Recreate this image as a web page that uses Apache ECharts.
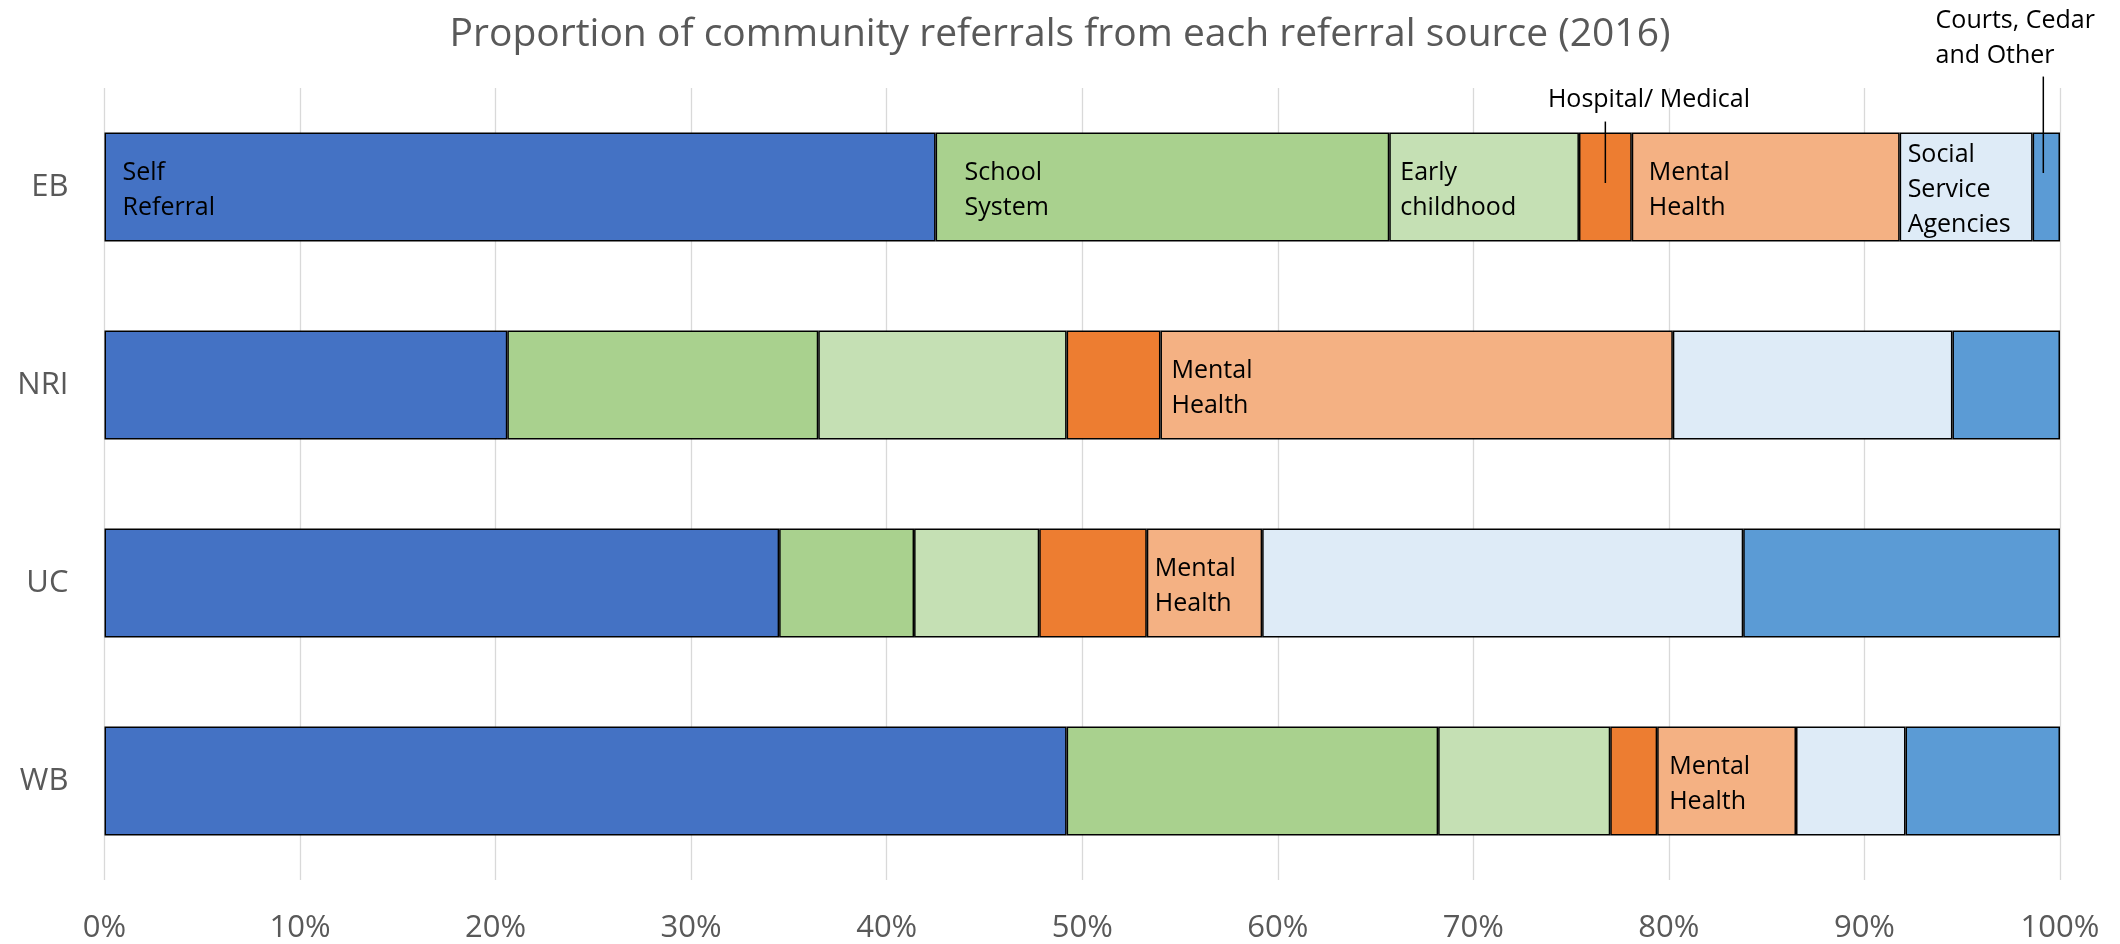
<!DOCTYPE html>
<html>
<head>
<meta charset="utf-8">
<script src="https://cdn.jsdelivr.net/npm/echarts@6/dist/echarts.min.js"></script>
<style>
  html, body { margin: 0; padding: 0; background: #ffffff; }
  #chart { width: 2120px; height: 944px; }
</style>
</head>
<body>
<div id="chart"></div>
<script>
// Areas (rows of the chart, top to bottom)
const categories = ['EB', 'NRI', 'UC', 'WB'];

// Share of community referrals per source, in percent of each area's total
const selfReferral    = [42.5, 20.6, 34.5, 49.2];
const schoolSystem    = [23.2, 15.9,  6.9, 19.0];
const earlyChildhood  = [ 9.7, 12.7,  6.4,  8.8];
const hospitalMedical = [ 2.7,  4.8,  5.5,  2.4];
const mentalHealth    = [13.7, 26.2,  5.9,  7.1];
const socialService   = [ 6.8, 14.3, 24.6,  5.6];
const courtsOther     = [ 1.4,  5.5, 16.2,  7.9];

// Source names and the wording shown on the bars
const sourceNames = ['Self Referral', 'School System', 'Early childhood', 'Hospital/ Medical',
                     'Mental Health', 'Social Service Agencies', 'Courts, Cedar and Other'];
const sourceLabels = ['Self\nReferral', 'School\nSystem', 'Early\nchildhood', 'Hospital/ Medical',
                      'Mental\nHealth', 'Social\nService\nAgencies', 'Courts, Cedar\nand Other'];

// Percentage axis
const xMin = 0, xMax = 100, xStep = 10;

const chartTitle = 'Proportion of community referrals from each referral source (2016)';

const FONT = '"Open Sans", "Liberation Sans", "DejaVu Sans", sans-serif';
const colors = ['#4472C4', '#A9D18E', '#C5E0B4', '#ED7D31', '#F4B183', '#DEEBF7', '#5B9BD5'];
const seriesValues = [selfReferral, schoolSystem, earlyChildhood, hospitalMedical,
                      mentalHealth, socialService, courtsOther];

// Labels written inside a segment: gap (px) from the segment's left edge
const insideLabelGap = {
  0: { EB: 18 },
  1: { EB: 29 },
  2: { EB: 11 },
  4: { EB: 17, NRI: 11, UC: 8, WB: 12 },
  5: { EB: 8 }
};
// Callout labels above the first bar (offset from the segment's top-left corner)
const calloutLabels = {
  3: { EB: { pos: [70, -33], align: 'center' } },
  6: { EB: { pos: [-97, -94], align: 'left' } }
};

const BAR_SHARE = 0.55;

const baseLabel = {
  show: true,
  color: '#000000',
  fontFamily: FONT,
  fontSize: 25,
  lineHeight: 35,
  verticalAlign: 'middle'
};

const series = seriesValues.map((values, s) => ({
  name: sourceNames[s],
  type: 'bar',
  stack: 'total',
  barWidth: (BAR_SHARE * 100) + '%',
  itemStyle: { color: colors[s], borderColor: '#000000', borderWidth: 1.5 },
  label: { show: false },
  emphasis: { disabled: true },
  data: values.map((v, i) => {
    const item = { value: v };
    const cat = categories[i];
    if (insideLabelGap[s] && insideLabelGap[s][cat] !== undefined) {
      item.label = Object.assign({}, baseLabel, {
        formatter: sourceLabels[s],
        position: [insideLabelGap[s][cat], '50%'],
        offset: [0, 3],
        align: 'left'
      });
    } else if (calloutLabels[s] && calloutLabels[s][cat]) {
      const c = calloutLabels[s][cat];
      item.label = Object.assign({}, baseLabel, {
        formatter: sourceLabels[s],
        position: c.pos,
        align: c.align
      });
    }
    return item;
  })
}));

const chart = echarts.init(document.getElementById('chart'), null, { renderer: 'canvas' });

const option = {
  animation: false,
  backgroundColor: '#ffffff',
  title: {
    text: chartTitle,
    left: 'center',
    top: 10,
    textStyle: { fontFamily: FONT, fontSize: 39, fontWeight: 'normal', color: '#595959' }
  },
  grid: { left: 104.5, right: 60, top: 88, bottom: 64, containLabel: false },
  xAxis: {
    type: 'value',
    min: xMin,
    max: xMax,
    interval: xStep,
    axisLine: { show: false },
    axisTick: { show: false },
    splitLine: { show: true, lineStyle: { color: '#D9D9D9', width: 1.3 } },
    axisLabel: {
      formatter: '{value}%',
      fontFamily: FONT,
      fontSize: 31,
      color: '#595959',
      margin: 33
    }
  },
  yAxis: {
    type: 'category',
    data: categories,
    inverse: true,
    axisLine: { show: false },
    axisTick: { show: false },
    splitLine: { show: false },
    axisLabel: { fontFamily: FONT, fontSize: 31, color: '#595959', margin: 36 }
  },
  series: series
};

chart.setOption(option);

// Leader lines from the callout labels down into their segments
function segmentCenter(s, i) {
  let start = 0;
  for (let k = 0; k < s; k++) start += seriesValues[k][i];
  const mid = start + seriesValues[s][i] / 2;
  return chart.convertToPixel({ xAxisIndex: 0, yAxisIndex: 0 }, [mid, i]);
}
const p0 = chart.convertToPixel({ xAxisIndex: 0, yAxisIndex: 0 }, [0, 0]);
const p1 = chart.convertToPixel({ xAxisIndex: 0, yAxisIndex: 0 }, [0, 1]);
const halfBar = Math.abs(p1[1] - p0[1]) * BAR_SHARE / 2;

const hosp = segmentCenter(3, 0);
const courts = segmentCenter(6, 0);
const lineStyle = { stroke: '#000000', lineWidth: 1.5 };

chart.setOption({
  graphic: [
    { type: 'line', silent: true, z: 100,
      shape: { x1: hosp[0], y1: hosp[1] - halfBar - 11, x2: hosp[0], y2: hosp[1] - 4 },
      style: lineStyle },
    { type: 'line', silent: true, z: 100,
      shape: { x1: courts[0] - 3, y1: courts[1] - halfBar - 56, x2: courts[0] - 3, y2: courts[1] - 14 },
      style: lineStyle }
  ]
});
</script>
</body>
</html>
